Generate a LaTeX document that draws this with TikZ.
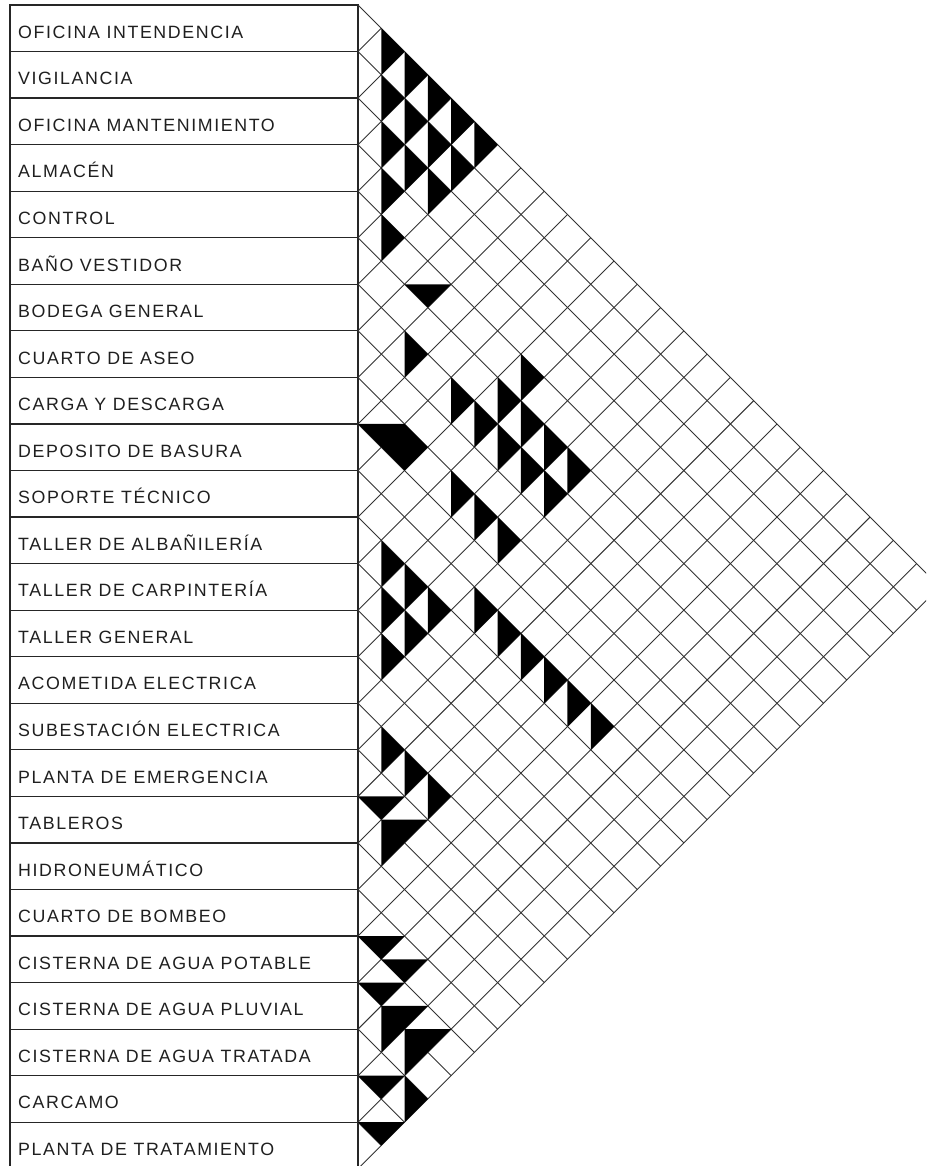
\documentclass[tikz,border=0pt]{standalone}
\usepackage{fontspec}
\newfontfamily\lblfont{Liberation Sans}[LetterSpace=9]
\tikzset{
  boxline/.style={line width=1.2pt, draw=black!85},
  gridline/.style={line width=0.9pt, draw=black!80},
  relmark/.style={fill=black, draw=none},
  lbl/.style={anchor=base west, inner sep=0pt, font=\lblfont\fontsize{17.8}{19}\selectfont, text=black!88},
}
\begin{document}
\begin{tikzpicture}[x=1pt,y=-1pt]
\useasboundingbox (0,0) rectangle (926,1166);
\clip (0,0) rectangle (926,1166);
\fill[white] (0,0) rectangle (926,1166);
% label column
\draw[boxline] (10,5) rectangle (358,1168.75);
\foreach \k in {1,...,24} {
  \draw[boxline] (10,{5+\k*46.55}) -- (358,{5+\k*46.55});
}
\foreach \t [count=\i] in {OFICINA INTENDENCIA,VIGILANCIA,OFICINA MANTENIMIENTO,ALMACÉN,CONTROL,BAÑO VESTIDOR,BODEGA GENERAL,CUARTO DE ASEO,CARGA Y DESCARGA,DEPOSITO DE BASURA,SOPORTE TÉCNICO,TALLER DE ALBAÑILERÍA,TALLER DE CARPINTERÍA,TALLER GENERAL,ACOMETIDA ELECTRICA,SUBESTACIÓN ELECTRICA,PLANTA DE EMERGENCIA,TABLEROS,HIDRONEUMÁTICO,CUARTO DE BOMBEO,CISTERNA DE AGUA POTABLE,CISTERNA DE AGUA PLUVIAL,CISTERNA DE AGUA TRATADA,CARCAMO,PLANTA DE TRATAMIENTO} {
  \node[lbl] (r\i) at (18,{5+(\i-0.5)*46.55+10}) {\t};
}
% relationship grid
\begin{scope}[shift={(358,5)}, x=23.275pt, y=-23.275pt]
  \foreach \k in {0,...,25} {
    \draw[gridline] (0,{2*\k}) -- ({25-\k},{25+\k});
    \draw[gridline] (0,{2*\k}) -- (\k,\k);
  }
  % right halves
  \foreach \mm/\nn in {1/2,2/3,3/4,4/5,5/6,1/4,2/5,3/6,4/7,1/6,2/7,3/8,1/8,1/10,
      2/15,7/16,4/17,6/17,5/18,7/18,6/19,8/19,7/20,9/20,8/21,4/21,5/22,6/23,
      1/24,2/25,3/26,1/26,2/27,1/28,5/26,6/27,7/28,8/29,9/30,10/31,
      1/32,2/33,3/34,2/47} {
    \fill[relmark] (\mm,{\nn-1}) -- ({\mm+1},\nn) -- (\mm,{\nn+1}) -- cycle;
  }
  % bottom halves
  \foreach \mm/\nn in {3/12,1/34,1/40,2/41,1/42,1/46,1/48} {
    \fill[relmark] ({\mm-1},\nn) -- ({\mm+1},\nn) -- (\mm,{\nn+1}) -- cycle;
  }
  % combined marks
  \fill[relmark] (0,18) -- (2,18) -- (3,19) -- (2,20) -- cycle;
  \fill[relmark] (1,35) -- (3,35) -- (1,37) -- cycle;
  \fill[relmark] (1,43) -- (3,43) -- (1,45) -- cycle;
  \fill[relmark] (2,44) -- (4,44) -- (2,46) -- cycle;
\end{scope}
\end{tikzpicture}
\end{document}
